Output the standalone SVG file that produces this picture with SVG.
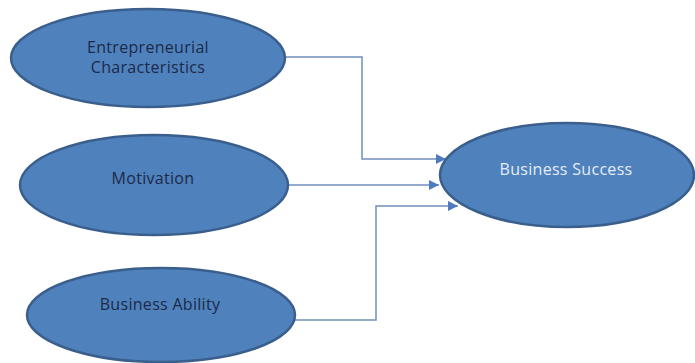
<svg xmlns="http://www.w3.org/2000/svg" width="695" height="363" viewBox="0 0 695 363">
<style>
.node{fill:#4f81bd;stroke:#3a5f8c;stroke-width:2.5}
.lbl{font-family:"Open Sans","Liberation Sans",sans-serif;font-size:16px;letter-spacing:0.3px;text-anchor:middle;fill:#1c2a48}
.lbl2{fill:#e3ecf7}
.conn{fill:none;stroke:#6f8fbd;stroke-width:1.5}
</style>
<defs>
<marker id="arr" viewBox="0 0 10 10" refX="10" refY="5" markerWidth="10" markerHeight="10" markerUnits="userSpaceOnUse" orient="auto">
<path d="M0,0 L10,5 L0,10 z" fill="#4f7cbf"/>
</marker>
</defs>
<rect width="695" height="363" fill="#ffffff"/>
<g id="connectors">
<path class="conn" d="M278,57 H362 V159 H446" marker-end="url(#arr)"/>
<path class="conn" d="M288,185 H439" marker-end="url(#arr)"/>
<path class="conn" d="M295,320 H376 V206 H458" marker-end="url(#arr)"/>
</g>
<g id="node-entrepreneurial">
<ellipse class="node" cx="148" cy="58" rx="137" ry="49"/>
<text class="lbl" x="148" y="53">Entrepreneurial</text>
<text class="lbl" x="148" y="73">Characteristics</text>
</g>
<g id="node-motivation">
<ellipse class="node" cx="154" cy="185" rx="134" ry="50"/>
<text class="lbl" x="153" y="184">Motivation</text>
</g>
<g id="node-ability">
<ellipse class="node" cx="161" cy="315" rx="134" ry="47"/>
<text class="lbl" x="160" y="310">Business Ability</text>
</g>
<g id="node-success">
<ellipse class="node" cx="567" cy="175" rx="127" ry="52"/>
<text class="lbl lbl2" x="566" y="175">Business Success</text>
</g>
</svg>
